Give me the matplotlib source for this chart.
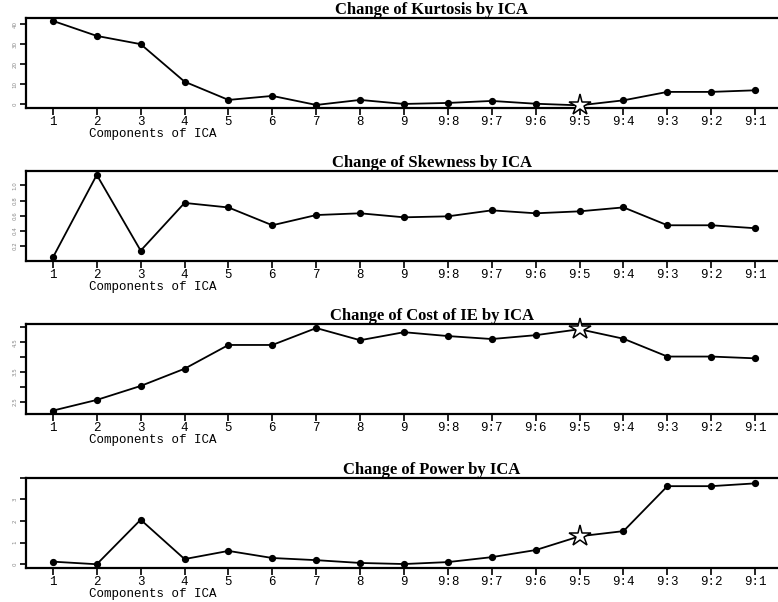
import matplotlib
matplotlib.use("Agg")
import matplotlib.pyplot as plt

categories = ["1", "2", "3", "4", "5", "6", "7", "8", "9",
              "9:8", "9:7", "9:6", "9:5", "9:4", "9:3", "9:2", "9:1"]

kurtosis = [41.6, 34.1, 30.0, 11.3, 2.2, 4.2, -0.3, 2.2, 0.2,
            0.7, 1.7, 0.3, -0.5, 2.0, 6.2, 6.2, 7.0]
skewness = [0.05, 1.14, 0.14, 0.77, 0.71, 0.475, 0.61, 0.633, 0.58,
            0.593, 0.672, 0.633, 0.659, 0.711, 0.475, 0.475, 0.436]
cost_ie = [2.20, 2.56, 3.03, 3.61, 4.41, 4.41, 4.98, 4.57, 4.84,
           4.71, 4.61, 4.74, 4.94, 4.62, 4.02, 4.02, 3.96]
power = [0.11, -0.01, 2.06, 0.23, 0.61, 0.28, 0.18, 0.05, 0.0,
         0.09, 0.32, 0.65, 1.29, 1.53, 3.62, 3.62, 3.75]

titles = ["Change of Kurtosis by ICA", "Change of Skewness by ICA",
          "Change of Cost of IE by ICA", "Change of Power by ICA"]
series = [kurtosis, skewness, cost_ie, power]
star_index = [12, None, 12, 12]
ylims = [(-1.7, 43.0), (0.003, 1.187), (2.086, 5.106), (-0.17, 3.98)]
yticks = [[0, 10, 20, 30, 40], [0.2, 0.4, 0.6, 0.8, 1.0],
          [2.5, 3.5, 4.5], [0, 1, 2, 3]]
yticklabels = [["0", "10", "20", "30", "40"], ["0.2", "0.4", "0.6", "0.8", "1.0"],
               ["2.5", "3.5", "4.5"], ["0", "1", "2", "3"]]
yminor = [[], [], [3.0, 4.0, 5.0], [4.0]]

fig = plt.figure(figsize=(7.78, 6.02), dpi=100)
bottoms = [0.821, 0.5664, 0.3123, 0.0570]
h = 0.149
left = 0.033
width = 0.967

mono = "Liberation Mono"
serif = "Liberation Serif"

x = list(range(1, len(categories) + 1))
for i in range(4):
    ax = fig.add_axes([left, bottoms[i], width, h])
    y = series[i]
    ax.plot(x, y, color="black", lw=1.3, marker="o", ms=4.2,
            mfc="black", mec="black", zorder=3)
    si = star_index[i]
    if si is not None:
        ax.plot([x[si]], [y[si]], marker="*", ms=16, mfc="white",
                mec="black", mew=1.1, ls="none", zorder=4, clip_on=False)
    ax.set_xlim(0.38, 17.52)
    ax.set_ylim(*ylims[i])
    ax.set_xticks(x)
    ax.set_xticklabels(categories, fontfamily=mono, fontsize=9)
    ax.set_yticks(yticks[i])
    ax.set_yticklabels(yticklabels[i], fontsize=4, rotation=90,
                       va="center", color="#888888")
    if yminor[i]:
        ax.set_yticks(yminor[i], minor=True)
    ax.tick_params(axis="x", direction="out", length=5, width=1.2, pad=1)
    ax.tick_params(axis="y", which="both", direction="out", length=4,
                   width=1.2, pad=2)
    for s in ["top", "bottom", "left"]:
        ax.spines[s].set_linewidth(1.6)
    ax.spines["right"].set_visible(False)
    ax.text(0.54, 1.005, titles[i], transform=ax.transAxes, ha="center",
            va="bottom", fontfamily=serif, fontweight="bold", fontsize=12)
    ax.annotate("Components of ICA", xy=(0.169, 0), xycoords="axes fraction",
                xytext=(0, -19), textcoords="offset points", ha="center",
                va="center", fontfamily=mono, fontsize=9)

fig.savefig("out.png", dpi=100)
